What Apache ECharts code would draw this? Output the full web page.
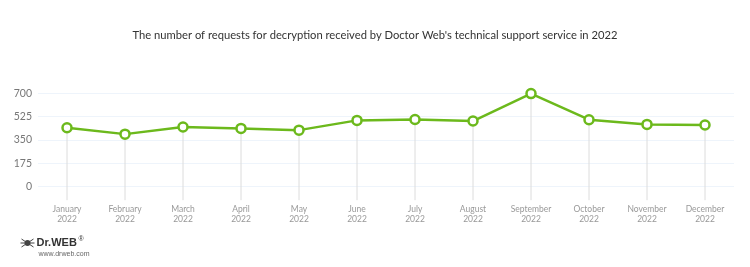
<!DOCTYPE html>
<html><head><meta charset="utf-8">
<script src="https://cdn.jsdelivr.net/npm/echarts@6/dist/echarts.min.js"></script>
<style>html,body{margin:0;padding:0;background:#fff}#c{width:750px;height:267px}</style>
</head><body><div id="c"></div>
<script>
const months = ['January','February','March','April','May','June','July','August','September','October','November','December'];
const year = '2022';
const requests = [442, 394, 447, 437, 424, 497, 504, 492, 698, 502, 467, 462];
const yTicks = [0, 175, 350, 525, 700];
const titleText = "The number of requests for decryption received by Doctor Web's technical support service in 2022";

const chart = echarts.init(document.getElementById('c'), null, {renderer: 'canvas'});
const green = '#6cb91c';
chart.setOption({
  animation: false,
  title: {text: titleText, left: 'center', top: 25,
    textStyle: {fontFamily: 'Lato', fontWeight: 'normal', fontSize: 11.2, color: '#333'}},
  grid: {left: 38, right: 16, top: 93.3, height: 93.4, containLabel: false},
  xAxis: {type: 'category', data: months.map(m => m + '\n' + year), boundaryGap: true,
    axisLine: {show: false}, axisTick: {show: false}, splitLine: {show: false},
    axisLabel: {interval: 0, color: '#999', fontSize: 8.5, fontFamily: 'Lato', margin: 17, lineHeight: 10.5}},
  yAxis: {type: 'value', min: 0, max: 700, interval: 175,
    axisLine: {show: false}, axisTick: {show: false},
    splitLine: {lineStyle: {color: '#eef4fb', width: 1}},
    axisLabel: {color: '#777', fontSize: 10.5, fontFamily: 'Lato', margin: 6,
      formatter: v => yTicks.includes(v) ? String(v) : ''}},
  series: [
    {type: 'custom', silent: true, z: 1, clip: false,
      data: requests.map((v, i) => [i, v]),
      renderItem: function (params, api) {
        const p = api.coord([api.value(0), api.value(1)]);
        const b = api.coord([api.value(0), 0]);
        return {type: 'line', shape: {x1: p[0], y1: p[1], x2: p[0], y2: b[1] + 13.5},
          style: {stroke: '#dcdcdc', lineWidth: 1}};
      }},
    {type: 'line', data: requests, z: 3,
      lineStyle: {color: green, width: 2.5},
      symbol: 'circle', symbolSize: 9,
      itemStyle: {color: '#fff', borderColor: green, borderWidth: 2.5}}
  ],
  graphic: [
    {type: 'group', left: 18, top: 236, children: [
      {type: 'circle', shape: {cx: 7, cy: 6, r: 3}, style: {fill: '#444'}},
      {type: 'line', shape: {x1: 1, y1: 2, x2: 13, y2: 10}, style: {stroke: '#444', lineWidth: 1}},
      {type: 'line', shape: {x1: 13, y1: 2, x2: 1, y2: 10}, style: {stroke: '#444', lineWidth: 1}},
      {type: 'line', shape: {x1: 0, y1: 6, x2: 14, y2: 6}, style: {stroke: '#444', lineWidth: 1}},
      {type: 'text', x: 16, y: 0, style: {text: 'Dr.WEB', fontFamily: 'Liberation Sans', fontWeight: 'bold', fontSize: 11, fill: '#333'}},
      {type: 'text', x: 58, y: -1, style: {text: '®', fontFamily: 'Liberation Sans', fontSize: 7, fill: '#333'}},
      {type: 'text', x: 18, y: 14, style: {text: 'www.drweb.com', fontFamily: 'Liberation Sans', fontSize: 7, fill: '#666'}}
    ]}
  ]
});
</script></body></html>
